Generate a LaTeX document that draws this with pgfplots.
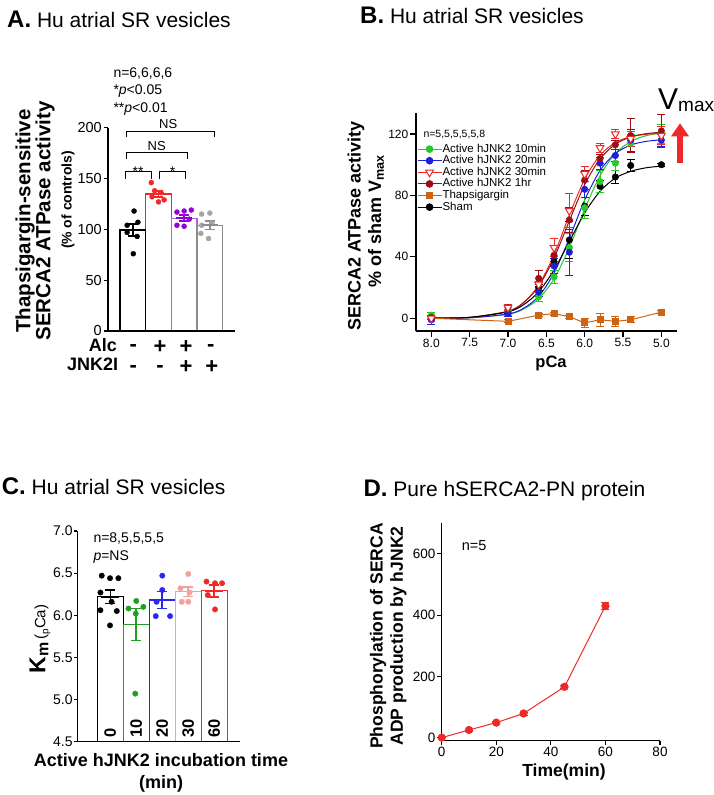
\documentclass[border=0pt]{standalone}
\usepackage{pgfplots}
\pgfplotsset{compat=1.18}
\usepackage{fontspec}
\setmainfont{Liberation Sans}
\usetikzlibrary{arrows.meta}
\newcommand{\fs}[1]{\fontsize{#1}{#1}\selectfont}
\definecolor{cred}{RGB}{240,40,40}
\definecolor{cgreenB}{RGB}{40,200,40}
\definecolor{cblueB}{RGB}{30,30,220}
\definecolor{cdred}{RGB}{155,15,20}
\definecolor{corange}{RGB}{205,100,20}
\definecolor{cpurple}{RGB}{150,0,215}
\definecolor{cpurplebar}{RGB}{175,95,230}
\definecolor{cgray}{RGB}{140,140,140}
\definecolor{cgraydot}{RGB}{165,165,165}
\definecolor{cgreenC}{RGB}{30,160,30}
\definecolor{cblueC}{RGB}{40,40,240}
\definecolor{cpink}{RGB}{245,160,160}
\pgfplotsset{
  panel/.style={
    scale only axis,
    axis x line=bottom, axis y line=left,
    axis line style={line width=1.1pt,-},
    every outer x axis line/.append style={-},
    every outer y axis line/.append style={-},
    every tick/.style={line width=1.1pt, black},
    tick align=outside,
    major tick length=4.5pt,
    /pgf/number format/assume math mode=true,
    tick label style={inner sep=1.5pt},
  },
  bars/.style={ybar, bar shift=0pt, fill=white, line width=1.3pt, forget plot},
  sem/.style={only marks, mark=-, mark size=#1, mark options={line width=1.6pt}, forget plot,
    error bars/y dir=both, error bars/y explicit,
    error bars/error bar style={line width=1.6pt},
    error bars/error mark options={rotate=90, mark size=5pt, line width=1.6pt}},
  dots/.style={only marks, mark=*, mark size=#1, forget plot},
  errB/.style={error bars/y dir=both, error bars/y explicit,
    error bars/error bar style={line width=0.8pt},
    error bars/error mark options={rotate=90, mark size=4pt, line width=0.8pt}},
}
\begin{document}
\begin{tikzpicture}
\useasboundingbox (0,0) rectangle (714pt,795pt);

% ---------------- Panel A ----------------
\begin{axis}[panel, at={(108pt,464pt)}, width=127pt, height=203.3pt,
  xmin=0.035, xmax=4.98, ymin=0, ymax=200, xtick=\empty,
  ytick={0,50,100,150,200}, tick label style={font=\fs{14.5}}, clip=false, axis on top]
\addplot[bars, bar width=25.7pt, draw=cred] coordinates {(2,134.7)};
\addplot[bars, bar width=25.7pt, draw=black] coordinates {(1,99.3)};
\addplot[bars, bar width=25.7pt, draw=cpurplebar] coordinates {(3,111)};
\addplot[bars, bar width=25.7pt, draw=cgray] coordinates {(4,104)};
\addplot[dots=2.5pt, black] coordinates {(1.05,118) (0.78,104) (1.2,107) (0.78,97) (1.17,93) (1.02,76)};
\addplot[dots=2.5pt, cred] coordinates {(1.72,146) (1.85,138) (2.1,136) (1.75,132) (2.0,127) (2.22,129)};
\addplot[dots=2.5pt, cpurple] coordinates {(2.72,117) (3.0,118) (3.28,119) (3.2,110) (2.72,104) (3.0,103)};
\addplot[dots=2.5pt, cgraydot] coordinates {(3.68,115) (4.0,116) (3.68,104) (4.08,106) (3.65,96) (3.95,91)};
\addplot[sem=8pt, black] coordinates {(1,99.3) +- (0,6)};
\addplot[sem=8pt, cred] coordinates {(2,134.7) +- (0,3)};
\addplot[sem=8pt, cpurple] coordinates {(3,111) +- (0,3)};
\addplot[sem=8pt, cgray] coordinates {(4,104) +- (0,4)};
\draw[line width=1pt] (axis cs:0.72,150) -- (axis cs:0.72,157) -- (axis cs:1.71,157) -- (axis cs:1.71,150);
\draw[line width=1pt] (axis cs:2.03,150) -- (axis cs:2.03,157) -- (axis cs:3.07,157) -- (axis cs:3.07,150);
\draw[line width=1pt] (axis cs:0.76,169) -- (axis cs:0.76,175.5) -- (axis cs:3.14,175.5) -- (axis cs:3.14,169);
\draw[line width=1pt] (axis cs:0.76,190.5) -- (axis cs:0.76,196.7) -- (axis cs:4.2,196.7) -- (axis cs:4.2,190.5);
\node[anchor=base, font=\fs{14}, inner sep=0pt] at (axis cs:1.21,151.5) {**};
\node[anchor=base, font=\fs{14}, inner sep=0pt] at (axis cs:2.55,151.5) {*};
\node[anchor=base, font=\fs{13}, inner sep=0pt] at (axis cs:1.93,178) {NS};
\node[anchor=base, font=\fs{13}, inner sep=0pt] at (axis cs:2.38,199.4) {NS};
\end{axis}

% ---------------- Panel B ----------------
\begin{axis}[panel, at={(416pt,464pt)}, width=260.7pt, height=217.7pt,
  x dir=reverse, xmin=4.8, xmax=8.2, ymin=-8.3, ymax=133.5,
  xtick={5,5.5,6,6.5,7,7.5,8}, ytick={0,40,80,120},
  xticklabel style={/pgf/number format/.cd, fixed, fixed zerofill, precision=1, /tikz/.cd},
  tick label style={font=\fs{12}}, major tick length=6pt,
  legend style={at={(0.004,0.862)}, anchor=north west, draw=none, fill=none,
    inner sep=0pt, outer sep=0pt, row sep=0pt, column sep=0pt, font=\fs{11.5},
    nodes={inner sep=0.5pt, text height=8.3pt, text depth=2.3pt}},
  legend cell align=left,
  legend image code/.code={\draw[mark repeat=2,mark phase=2,#1] plot coordinates {(0pt,0pt) (12pt,0pt) (24pt,0pt)};}]
% fitted curves
\addplot[cgreenB, line width=1pt, smooth, forget plot] coordinates {(8.0,0.04) (7.5,0.34) (7.0,2.6) (6.8,5.9) (6.6,12.7) (6.4,25.6) (6.2,46.1) (6.0,71.0) (5.8,92.9) (5.6,107.3) (5.4,115.1) (5.2,118.9) (5.0,120.7)};
\addplot[cblueB, line width=1pt, smooth, forget plot] coordinates {(8.0,0.03) (7.5,0.3) (7.0,2.8) (6.8,6.4) (6.6,14.3) (6.4,29.4) (6.2,52.1) (6.0,77.0) (5.8,96.2) (5.6,107.3) (5.4,112.8) (5.2,115.2) (5.0,116.2)};
\addplot[cred, line width=1pt, smooth, forget plot] coordinates {(8.0,0.06) (7.5,0.5) (7.0,4.4) (6.8,10.0) (6.6,21.5) (6.4,41.3) (6.2,67.2) (6.0,90.6) (5.8,106.1) (5.6,114.4) (5.4,118.2) (5.2,119.8) (5.0,120.5)};
\addplot[cdred, line width=1pt, smooth, forget plot] coordinates {(8.0,0.08) (7.5,0.6) (7.0,4.6) (6.8,10.1) (6.6,20.9) (6.4,39.2) (6.2,63.5) (6.0,87.0) (5.8,103.8) (5.6,113.3) (5.4,118.1) (5.2,120.2) (5.0,121.2)};
\addplot[black, line width=1pt, smooth, forget plot] coordinates {(8.0,0.1) (7.5,0.6) (7.0,4.2) (6.8,8.7) (6.6,17.3) (6.4,31.4) (6.2,50) (6.0,68.6) (5.8,82.7) (5.6,91.3) (5.4,95.7) (5.2,98.0) (5.0,99.1)};
% data points
\addplot[corange, line width=1pt, mark=square*, mark size=3pt, forget plot, errB] coordinates {(8.0,0) +- (0,1) (7.0,-2) +- (0,1) (6.6,2) +- (0,1) (6.4,3) +- (0,1) (6.2,1) +- (0,1) (6.0,-3) +- (0,3) (5.8,-1) +- (0,4) (5.6,-2) +- (0,3) (5.4,-1) +- (0,2) (5.0,4) +- (0,1)};
\addplot[black, only marks, mark=*, mark size=3.3pt, forget plot, errB] coordinates {(8.0,0.5) +- (0,1) (7.0,4) +- (0,1) (6.6,20) +- (0,2) (6.4,37) +- (0,3) (6.2,51) +- (0,12) (6.0,73) +- (0,6) (5.8,86) +- (0,4) (5.6,92) +- (0,4) (5.4,99.5) +- (0,4) (5.0,100) +- (0,1)};
\addplot[cgreenB, only marks, mark=*, mark size=3.3pt, forget plot, errB] coordinates {(8.0,2) +- (0,2) (7.0,4) +- (0,2) (6.6,14) +- (0,3) (6.4,27) +- (0,4) (6.2,46) +- (0,9) (6.0,72) +- (0,7) (5.8,89) +- (0,7) (5.6,101) +- (0,5) (5.4,114) +- (0,6) (5.0,120) +- (0,6)};
\addplot[cblueB, only marks, mark=*, mark size=3.3pt, forget plot, errB] coordinates {(8.0,-1) +- (0,3) (7.0,3) +- (0,2) (6.6,17) +- (0,3) (6.4,34) +- (0,5) (6.2,43) +- (0,15) (6.0,84) +- (0,5) (5.8,101) +- (0,4) (5.6,106) +- (0,4) (5.4,116) +- (0,7) (5.0,116) +- (0,4)};
\addplot[cdred, only marks, mark=*, mark size=3.3pt, forget plot, errB] coordinates {(8.0,0.5) +- (0,1) (7.0,7) +- (0,2) (6.6,26) +- (0,5) (6.4,41) +- (0,6) (6.2,64) +- (0,8) (6.0,90) +- (0,6) (5.8,104) +- (0,3) (5.6,113) +- (0,3) (5.4,119) +- (0,11) (5.0,122) +- (0,11)};
\addplot[cred, only marks, mark=triangle*, mark size=4.5pt, mark options={rotate=180, fill=white, line width=1pt}, forget plot, errB] coordinates {(8.0,0) +- (0,1) (7.0,7) +- (0,2) (6.6,22) +- (0,2) (6.4,46) +- (0,6) (6.2,70) +- (0,11) (6.0,94) +- (0,5) (5.8,111) +- (0,3) (5.6,120) +- (0,3) (5.4,117) +- (0,5) (5.0,119) +- (0,6)};
\addlegendimage{cgreenB, line width=1pt, mark=*, mark size=3.3pt}
\addlegendentry{Active hJNK2 10min}
\addlegendimage{cblueB, line width=1pt, mark=*, mark size=3.3pt}
\addlegendentry{Active hJNK2 20min}
\addlegendimage{cred, line width=1pt, mark=triangle*, mark size=4.5pt, mark options={rotate=180, fill=white}}
\addlegendentry{Active hJNK2 30min}
\addlegendimage{cdred, line width=1pt, mark=*, mark size=3.3pt}
\addlegendentry{Active hJNK2 1hr}
\addlegendimage{corange, line width=1pt, mark=square*, mark size=3pt}
\addlegendentry{Thapsigargin}
\addlegendimage{black, line width=1pt, mark=*, mark size=3.3pt}
\addlegendentry{Sham}
\end{axis}

% ---------------- Panel C ----------------
\begin{axis}[panel, at={(77.3pt,53.3pt)}, width=162.7pt, height=210.7pt,
  xmin=-0.27, xmax=5.99, ymin=4.5, ymax=7, xtick=\empty,
  ytick={4.5,5,5.5,6,6.5,7},
  yticklabel style={/pgf/number format/.cd, fixed, fixed zerofill, precision=1, /tikz/.cd},
  tick label style={font=\fs{14}}, major tick length=3pt, axis on top]
\addplot[bars, bar width=26pt, draw=black] coordinates {(1,6.22)};
\addplot[bars, bar width=26pt, draw=cgreenC] coordinates {(2,5.89)};
\addplot[bars, bar width=26pt, draw=cblueC] coordinates {(3,6.18)};
\addplot[bars, bar width=26pt, draw=cpink] coordinates {(4,6.28)};
\addplot[bars, bar width=26pt, draw=cred] coordinates {(5,6.29)};
\addplot[dots=2.7pt, black] coordinates {(0.67,6.47) (0.99,6.44) (1.31,6.44) (0.62,6.27) (1.05,6.16) (0.62,6.06) (1.25,6.05) (0.99,5.88)};
\addplot[dots=2.7pt, cgreenC] coordinates {(2.0,6.17) (1.7,6.08) (2.27,6.10) (1.98,6.02) (1.96,5.07)};
\addplot[dots=2.7pt, cblueC] coordinates {(3.0,6.47) (3.0,6.30) (2.78,6.16) (2.75,5.99) (3.3,5.99)};
\addplot[dots=2.7pt, cpink] coordinates {(4.0,6.49) (3.7,6.32) (4.05,6.27) (3.75,6.16) (4.0,6.16)};
\addplot[dots=2.7pt, cred] coordinates {(4.7,6.40) (5.03,6.38) (5.3,6.38) (4.75,6.24) (5.03,6.07)};
\addplot[sem=9pt, black] coordinates {(1,6.22) +- (0,0.08)};
\addplot[sem=9pt, cgreenC] coordinates {(2,5.89) +- (0,0.19)};
\addplot[sem=9pt, cblueC] coordinates {(3,6.18) +- (0,0.10)};
\addplot[sem=9pt, cpink] coordinates {(4,6.28) +- (0,0.055)};
\addplot[sem=9pt, cred] coordinates {(5,6.29) +- (0,0.07)};
\end{axis}

% ---------------- Panel D ----------------
\begin{axis}[panel, at={(441.7pt,54.3pt)}, width=218.3pt, height=217.4pt,
  xmin=0, xmax=80, ymin=-10, ymax=700,
  xtick={0,20,40,60,80}, ytick={0,200,400,600},
  tick label style={font=\fs{13.5}}]
\addplot[cred, line width=1pt, mark=*, mark size=3.6pt, errB] coordinates {(0,0) +- (0,0) (10,25) +- (0,3) (20,49) +- (0,4) (30,79) +- (0,5) (45,166) +- (0,5) (60,430) +- (0,12)};
\end{axis}

% ---------------- Text ----------------
% titles
\node[anchor=base west, inner sep=0pt] at (7pt,767.7pt) {{\fs{24}\bfseries A.}{\fs{21} Hu atrial SR vesicles}};
\node[anchor=base west, inner sep=0pt] at (360pt,771pt) {{\fs{24}\bfseries B.}{\fs{21} Hu atrial SR vesicles}};
\node[anchor=base west, inner sep=0pt] at (1.7pt,300pt) {{\fs{24}\bfseries C.}{\fs{21} Hu atrial SR vesicles}};
\node[anchor=base west, inner sep=0pt] at (363.3pt,298.3pt) {{\fs{24}\bfseries D.}{\fs{21} Pure hSERCA2-PN protein}};

% Panel A labels
\node[rotate=90, font=\bfseries\fs{20.5}, inner sep=0pt] at (25pt,574pt) {Thapsigargin-sensitive};
\node[rotate=90, font=\bfseries\fs{20.5}, inner sep=0pt] at (45pt,574pt) {SERCA2 ATPase activity};
\node[rotate=90, font=\bfseries\fs{14}, inner sep=0pt] at (68pt,595pt) {(\% of controls)};
\node[anchor=base west, font=\fs{14}, inner sep=0pt] at (113.3pt,717.7pt) {n=6,6,6,6};
\node[anchor=base west, font=\fs{14}, inner sep=0pt] at (113.3pt,700pt) {*\textit{p}<0.05};
\node[anchor=base west, font=\fs{14}, inner sep=0pt] at (113.3pt,682.3pt) {**\textit{p}<0.01};
\node[anchor=base east, font=\bfseries\fs{18}, inner sep=0pt] at (117pt,443pt) {Alc};
\node[anchor=base east, font=\bfseries\fs{18}, inner sep=0pt] at (118.3pt,424pt) {JNK2I};
\node[anchor=base, font=\bfseries\fs{22}, inner sep=0pt] at (133.3pt,443.1pt) {-};
\node[anchor=base, font=\bfseries\fs{22}, inner sep=0pt] at (160pt,441.5pt) {+};
\node[anchor=base, font=\bfseries\fs{22}, inner sep=0pt] at (186pt,441.5pt) {+};
\node[anchor=base, font=\bfseries\fs{22}, inner sep=0pt] at (210.7pt,443.1pt) {-};
\node[anchor=base, font=\bfseries\fs{22}, inner sep=0pt] at (133.3pt,422.1pt) {-};
\node[anchor=base, font=\bfseries\fs{22}, inner sep=0pt] at (160pt,422.1pt) {-};
\node[anchor=base, font=\bfseries\fs{22}, inner sep=0pt] at (186pt,421.5pt) {+};
\node[anchor=base, font=\bfseries\fs{22}, inner sep=0pt] at (211.7pt,421.5pt) {+};

% Panel B labels
\node[rotate=90, font=\bfseries\fs{18}, inner sep=0pt] at (356pt,569pt) {SERCA2 ATPase activity};
\node[rotate=90, font=\bfseries\fs{18}, inner sep=0pt] at (376pt,574pt) {\% of sham V\textsubscript{max}};
\node[anchor=base, font=\bfseries\fs{16.5}, inner sep=0pt] at (551pt,427.7pt) {pCa};
\node[anchor=base west, font=\fs{10.5}, inner sep=0pt] at (423.3pt,657.5pt) {n=5,5,5,5,5,8};
\node[anchor=base west, inner sep=0pt] at (658pt,685pt) {{\fs{30}V}\raisebox{-2pt}{\fs{19}max}};
\draw[cred, line width=6pt, -{Triangle[width=17pt,length=13pt]}] (680pt,631.7pt) -- (680pt,671.7pt);

% Panel C labels
\node[rotate=90, inner sep=0pt] at (40pt,156pt) {{\bfseries\fs{23}K}\raisebox{-3pt}{\bfseries\fs{16}m}\hspace{3pt}{\fs{15}(\raisebox{-3pt}{\fs{10}p}Ca)}};
\node[anchor=base, font=\bfseries\fs{18}, inner sep=0pt] at (161pt,28.3pt) {Active hJNK2 incubation time};
\node[anchor=base, font=\bfseries\fs{18}, inner sep=0pt] at (161pt,6.7pt) {(min)};
\node[anchor=base west, font=\fs{14}, inner sep=0pt] at (93.3pt,252.3pt) {n=8,5,5,5,5};
\node[anchor=base west, font=\fs{14}, inner sep=0pt] at (93.3pt,234.3pt) {\textit{p}=NS};
\node[rotate=90, anchor=west, font=\bfseries\fs{16.5}, inner sep=0pt] at (110.3pt,57pt) {0};
\node[rotate=90, anchor=west, font=\bfseries\fs{16.5}, inner sep=0pt] at (136.3pt,57pt) {10};
\node[rotate=90, anchor=west, font=\bfseries\fs{16.5}, inner sep=0pt] at (162.3pt,57pt) {20};
\node[rotate=90, anchor=west, font=\bfseries\fs{16.5}, inner sep=0pt] at (188.3pt,57pt) {30};
\node[rotate=90, anchor=west, font=\bfseries\fs{16.5}, inner sep=0pt] at (214.3pt,57pt) {60};

% Panel D labels
\node[rotate=90, font=\bfseries\fs{17.5}, inner sep=0pt] at (378pt,159pt) {Phosphorylation of SERCA};
\node[rotate=90, font=\bfseries\fs{17.5}, inner sep=0pt] at (398.3pt,159pt) {ADP production by hJNK2};
\node[anchor=base, font=\bfseries\fs{17.5}, inner sep=0pt] at (564pt,18pt) {Time(min)};
\node[anchor=base west, font=\fs{14.5}, inner sep=0pt] at (461.7pt,244.3pt) {n=5};
\end{tikzpicture}
\end{document}
